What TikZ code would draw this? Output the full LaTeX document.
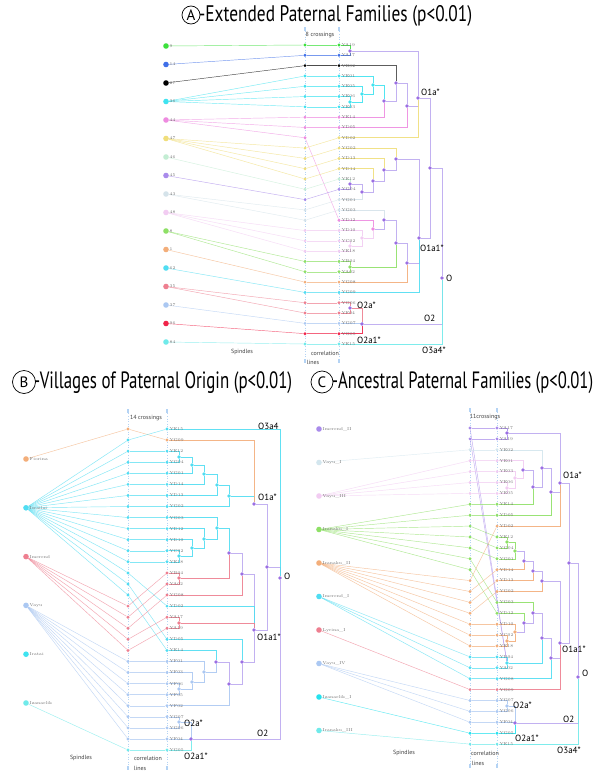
\documentclass[tikz,border=0pt]{standalone}
\usepackage{fontspec}
\usepackage{graphicx}
\usepackage{xcolor}
\usepackage{tikz}
\usetikzlibrary{positioning}
\newfontfamily\headfont{PT Sans}

\definecolor{cGreen}{HTML}{3CE03C}
\definecolor{cBlue}{HTML}{3F6FE8}
\definecolor{cCyan}{HTML}{3FE3F0}
\definecolor{cPink}{HTML}{EE8BE0}
\definecolor{cYellow}{HTML}{F0DE7A}
\definecolor{cMint}{HTML}{C3EDD3}
\definecolor{cPurple}{HTML}{A98BEB}
\definecolor{cGrey}{HTML}{D5E3EA}
\definecolor{cLPink}{HTML}{F2CCF2}
\definecolor{cLime}{HTML}{8EE066}
\definecolor{cOrange}{HTML}{F3AE7A}
\definecolor{cSky}{HTML}{50DDF2}
\definecolor{cRose}{HTML}{EE7F90}
\definecolor{cLBlue}{HTML}{ABC8F2}
\definecolor{cRed}{HTML}{F0244A}
\definecolor{cAqua}{HTML}{70EAEA}
\definecolor{cTeal}{HTML}{25E2EE}
\definecolor{cIce}{HTML}{D3E6EE}
\definecolor{cTree}{HTML}{9B6FE3}
\definecolor{cTreeLine}{HTML}{BCA9F0}
\definecolor{cCol}{HTML}{B4D3F4}

\pgfdeclarelayer{background}
\pgfsetlayers{background,main}

% panel A data
\def\aspin{1/9/cGreen, 2/14/cBlue, 3/27/black, 4/36/cCyan, 5/44/cPink, 6/47/cYellow, 7/46/cMint, 8/45/cPurple, 9/43/cGrey, 10/48/cLPink, 11/8/cLime, 12/1/cOrange, 13/62/cSky, 14/35/cRose, 15/37/cLBlue, 16/96/cRed, 17/84/cAqua}
\def\amid{1/cGreen/1/1, 2/cBlue/2/2, 3/black/3/3, 4/cCyan/4/4, 5/cCyan/4/5, 6/cCyan/4/6, 7/cCyan/4/7, 8/cPink/5/8, 9/cPink/5/9, 10/cPink/5/18, 11/cYellow/6/10, 12/cYellow/6/11, 13/cYellow/6/12, 14/cYellow/6/13, 15/cMint/7/14, 16/cPurple/8/15, 17/cGrey/9/16, 18/cGrey/9/17, 19/cLPink/10/19, 20/cLPink/10/20, 21/cLPink/10/21, 22/cLime/11/22, 23/cLime/11/23, 24/cOrange/12/24, 25/cSky/13/25, 26/cRose/14/26, 27/cRose/14/27, 28/cLBlue/15/28, 29/cRed/16/29, 30/cAqua/17/30}
\def\aleaf{1/YA19/cGreen, 2/YA17/cBlue, 3/YE02/black, 4/YE01/cCyan, 5/YE05/cCyan, 6/YE06/cCyan, 7/YE03/cCyan, 8/YE14/cPink, 9/YD05/cPink, 10/YD02/cYellow, 11/YG02/cYellow, 12/YD13/cYellow, 13/YD14/cYellow, 14/YE12/cMint, 15/YG04/cPurple, 16/YG01/cGrey, 17/YG03/cGrey, 18/YD12/cPink, 19/YD10/cLPink, 20/YC02/cLPink, 21/YE18/cLPink, 22/YB04/cLime, 23/YA02/cLime, 24/YG08/cOrange, 25/YG09/cSky, 26/YG06/cRose, 27/YF04/cRose, 28/YG07/cLBlue, 29/YG05/cRed, 30/YE15/cAqua}
\def\atree{a1/350/51/cTree, c1/350/102/cCyan, c2/362/94/cCyan, c3/373/85/cCyan, a2/384/101/cTree, a3/396/83/cTree, a4/407/106/cTree, A/418/98/cTree, b1/350/184/cTree, b2/362/192/cTree, b3/373/181/cTree, b4/384/170/cTree, b5/396/159/cTree, p1/350/246/cLPink, p2/362/238/cLPink, p3/373/229/cPink, p4/384/220/cTree, g1/350/267/cLime, p5/396/243/cTree, p6/407/263/cTree, B/419/238/cTree, C/430/168/cTree, O/442/278/cTree, q1/350/308/cTree, Q/362/324/cTree}
\def\aedge{l1/a1/cGreen, l2/a1/cBlue, a1/A/cTreeLine, l6/c1/cCyan, l7/c1/cCyan, c1/c2/cCyan, l5/c2/cCyan, c2/c3/cCyan, l4/c3/cCyan, c3/a2/cCyan, l8/a2/cPink, l3/a3/black!70, a2/a3/cTreeLine, a3/a4/cTreeLine, l9/a4/cPink, a4/A/cTreeLine, l10/A/cYellow, l14/b1/cMint, l15/b1/cPurple, b1/b2/cTreeLine, l16/b2/cGrey, b2/b3/cTreeLine, l13/b3/cYellow, b3/b4/cTreeLine, l12/b4/cYellow, b4/b5/cTreeLine, l11/b5/cYellow, b5/B/cTreeLine, l20/p1/cLPink, l21/p1/cLPink, p1/p2/cLPink, l19/p2/cLPink, p2/p3/cLPink, l18/p3/cPink, p3/p4/cTreeLine, l17/p4/cGrey, l22/g1/cLime, l23/g1/cLime, p4/p5/cTreeLine, g1/p5/cLime, p5/p6/cTreeLine, l24/p6/cOrange, p6/B/cTreeLine, l25/B/cSky, A/C/cTreeLine, B/C/cTreeLine, C/O/cTreeLine, l26/q1/cRose, l27/q1/cRose, q1/Q/cRose, l28/Q/cLBlue, l29/Q/cRed, Q/O/cTreeLine, l30/O/cAqua}

% panel B data
\def\bspin{1/Fiorina/cOrange, 2/Israilai/cSky, 3/Imerend/cRose, 4/Vayu/cLBlue, 5/Iratai/cCyan, 6/Izanaelik/cAqua}
\def\bmid{1/cOrange/1/2, 2/cSky/2/1, 3/cSky/2/3, 4/cSky/2/4, 5/cSky/2/5, 6/cSky/2/6, 7/cSky/2/7, 8/cSky/2/8, 9/cSky/2/9, 10/cSky/2/10, 11/cSky/2/11, 12/cSky/2/12, 13/cSky/2/13, 14/cSky/2/17, 15/cSky/2/20, 16/cSky/2/21, 17/cRose/3/14, 18/cRose/3/15, 19/cRose/3/16, 20/cRose/3/18, 21/cRose/3/19, 22/cLBlue/4/22, 23/cLBlue/4/23, 24/cLBlue/4/24, 25/cLBlue/4/25, 26/cLBlue/4/26, 27/cLBlue/4/27, 28/cLBlue/4/28, 29/cLBlue/4/29, 30/cAqua/6/30}
\def\bleaf{1/YE15/cSky, 2/YG09/cOrange, 3/YE12/cSky, 4/YG04/cSky, 5/YG01/cSky, 6/YD14/cSky, 7/YD13/cSky, 8/YG02/cSky, 9/YG03/cSky, 10/YD12/cSky, 11/YD10/cSky, 12/YC02/cSky, 13/YE18/cSky, 14/YB04/cRose, 15/YA02/cRose, 16/YG08/cRose, 17/YD02/cSky, 18/YA17/cRose, 19/YA19/cRose, 20/YD05/cSky, 21/YE14/cSky, 22/YF01/cLBlue, 23/YF03/cLBlue, 24/YF06/cLBlue, 25/YF05/cLBlue, 26/YF02/cLBlue, 27/YG07/cLBlue, 28/YG06/cLBlue, 29/YF04/cLBlue, 30/YG05/cAqua}
\def\btree{b1/179/457/cSky, b2/192/465/cSky, b3/204/474/cSky, b4/217/485/cSky, b5/229/496/cSky, A/254/504/cTree, c1/179/556/cSky, c2/192/548/cSky, c3/204/539/cSky, c4/217/528/cSky, p0/179/578/cRose, p1/229/553/cTree, p2/242/574/cTree, p3/179/623/cRose, d1/179/689/cLBlue, d2/192/682/cLBlue, d3/204/672/cLBlue, d4/216/662/cTree, d5/229/684/cTree, d6/242/662/cTree, B/254/630/cTree, C/267/567/cTree, O/280/578/cTree, e1/179/722/cLBlue, Q/191/739/cTree}
\def\bedge{l3/b1/cSky, l4/b1/cSky, b1/b2/cSky, l5/b2/cSky, b2/b3/cSky, l6/b3/cSky, b3/b4/cSky, l7/b4/cSky, b4/b5/cSky, l8/b5/cSky, b5/A/cSky, l2/A/cOrange, l12/c1/cSky, l13/c1/cSky, c1/c2/cSky, l11/c2/cSky, c2/c3/cSky, l10/c3/cSky, c3/c4/cSky, l9/c4/cSky, c4/p1/cSky, l14/p0/cRose, l15/p0/cRose, p0/p1/cRose, p1/p2/cTreeLine, l16/p2/cRose, p2/B/cTreeLine, l17/B/cSky, l18/p3/cRose, l19/p3/cRose, p3/B/cRose, l24/d1/cLBlue, l25/d1/cLBlue, d1/d2/cLBlue, l23/d2/cLBlue, d2/d3/cLBlue, l22/d3/cLBlue, d3/d4/cLBlue, l21/d4/cSky, d4/d5/cTreeLine, l26/d5/cLBlue, d5/d6/cTreeLine, l20/d6/cSky, d6/B/cTreeLine, A/C/cTreeLine, B/C/cTreeLine, C/O/cTreeLine, l1/O/cSky, l27/e1/cLBlue, l28/e1/cLBlue, e1/Q/cLBlue, l29/Q/cLBlue, l30/Q/cAqua, Q/O/cTreeLine}

% panel C data
\def\cspin{1/Imerend\_II/cPurple, 2/Vayu\_I/cIce, 3/Vayu\_III/cLPink, 4/Iranaku\_I/cLime, 5/Iranaku\_II/cOrange, 6/Imerend\_I/cSky, 7/Lyrina\_I/cRose, 8/Vayu\_IV/cLBlue, 9/Izanaelik\_I/cTeal, 10/Iranaku\_III/cAqua}
\def\cmid{1/cPurple/1/1, 2/cPurple/1/2, 3/cIce/2/3, 4/cLPink/3/4, 5/cLPink/3/5, 6/cLPink/3/6, 7/cLPink/3/7, 8/cLime/4/8, 9/cLime/4/9, 10/cLime/4/11, 11/cLime/4/12, 12/cLime/4/13, 13/cLime/4/17, 14/cLime/4/18, 15/cOrange/5/10, 16/cOrange/5/14, 17/cOrange/5/15, 18/cOrange/5/16, 19/cOrange/5/19, 20/cOrange/5/20, 21/cOrange/5/21, 22/cSky/6/22, 23/cSky/6/23, 24/cSky/6/24, 25/cRose/7/25, 26/cLBlue/8/26, 27/cLBlue/8/27, 28/cLBlue/8/28, 29/cTeal/9/29, 30/cAqua/10/30}
\def\cleaf{1/YA17/cPurple, 2/YA19/cPurple, 3/YE02/cIce, 4/YE01/cLPink, 5/YE03/cLPink, 6/YE06/cLPink, 7/YE05/cLPink, 8/YE14/cLime, 9/YD05/cLime, 10/YD02/cOrange, 11/YE12/cLime, 12/YG04/cLime, 13/YG01/cLime, 14/YD14/cOrange, 15/YD13/cOrange, 16/YG02/cOrange, 17/YG03/cLime, 18/YD12/cLime, 19/YD10/cOrange, 20/YC02/cOrange, 21/YE18/cOrange, 22/YB04/cSky, 23/YA02/cSky, 24/YG08/cSky, 25/YG09/cRose, 26/YG07/cLBlue, 27/YG06/cLBlue, 28/YF04/cLBlue, 29/YG05/cTeal, 30/YE15/cAqua}
\def\ctree{a1/507/433/cTree, k1/507/488/cLPink, k2/515/478/cLPink, k3/523/470/cTree, k4/533/487/cTree, k5/542/468/cTree, k6/551/492/cTree, A/560/483/cTree, g1/507/542/cLime, g2/515/551/cLime, g3/524/561/cTree, g4/533/571/cTree, g5/542/581/cTree, h1/507/641/cOrange, h2/515/632/cOrange, h3/524/623/cTree, h4/533/613/cTree, s1/507/663/cSky, h5/542/638/cTree, h6/551/658/cTree, B/560/643/cTree, C/569/563/cTree, O/578/677/cTree, e1/507/706/cLBlue, Q/515/723/cTree}
\def\cedge{l1/a1/cPurple, l2/a1/cPurple, a1/A/cTreeLine, l6/k1/cLPink, l7/k1/cLPink, k1/k2/cLPink, l5/k2/cLPink, k2/k3/cLPink, l4/k3/cLPink, k3/k4/cTreeLine, l8/k4/cLime, k4/k5/cTreeLine, l3/k5/cIce, k5/k6/cTreeLine, l9/k6/cLime, k6/A/cTreeLine, l10/A/cOrange, l11/g1/cLime, l12/g1/cLime, g1/g2/cLime, l13/g2/cLime, g2/g3/cTreeLine, l14/g3/cOrange, g3/g4/cTreeLine, l15/g4/cOrange, g4/g5/cTreeLine, l16/g5/cOrange, g5/B/cTreeLine, l20/h1/cOrange, l21/h1/cOrange, h1/h2/cOrange, l19/h2/cOrange, h2/h3/cTreeLine, l18/h3/cLime, h3/h4/cTreeLine, l17/h4/cLime, l22/s1/cSky, l23/s1/cSky, h4/h5/cTreeLine, s1/h5/cSky, h5/h6/cTreeLine, l24/h6/cSky, h6/B/cTreeLine, l25/B/cRose, A/C/cTreeLine, B/C/cTreeLine, C/O/cTreeLine, l26/e1/cLBlue, l27/e1/cLBlue, e1/Q/cLBlue, l28/Q/cLBlue, l29/Q/cTeal, Q/O/cTreeLine, l30/O/cAqua}

\begin{document}
\begin{tikzpicture}[x=1pt, y=-1pt,
    spindle/.style={circle, fill=#1, minimum size=5.6pt, inner sep=0pt},
    pdot/.style={circle, fill=#1, minimum size=3.2pt, inner sep=0pt},
    tdot/.style={circle, fill=#1, minimum size=3.6pt, inner sep=0pt},
    link/.style={draw=#1, draw opacity=0.7, line width=0.45pt},
    tline/.style={draw=#1, draw opacity=0.9, line width=0.6pt},
    tag/.style={font=\fontsize{4.2}{5}\selectfont, text=black!55, inner sep=0.5pt},
    clade/.style={font=\headfont\fontsize{9}{9}\selectfont, inner sep=0pt, anchor=west},
    caption/.style={font=\headfont\fontsize{6}{6}\selectfont, text=black!75, inner sep=0pt},
    colmark/.style={rectangle, fill=cCol, minimum width=2.5pt, minimum height=4.5pt, inner sep=0pt},
    colline/.style={draw=cCol, dash pattern=on 0.8pt off 1.8pt, line width=0.35pt},
    badge/.style={circle, draw, line width=0.7pt, inner sep=0pt, minimum size=#1, font=\headfont\fontsize{15}{15}\selectfont}
]
\begin{pgfonlayer}{background}
\fill[white] (0,0) rectangle (600,776);
\end{pgfonlayer}
\useasboundingbox (0,0) rectangle (600,776);

% ---------- A: extended paternal families
\node[badge=18pt] (a-badge) at (191,15) {A};
\node[anchor=west, inner sep=0pt] (a-title) at (199,15.5) {\resizebox*{273pt}{21pt}{\headfont -Extended Paternal Families (p<0.01)}};

\node[colmark] (a-top1) at (305,29) {};
\node[colmark] (a-top2) at (339,29) {};
\node[colmark] (a-bot1) at (305,361) {};
\node[colmark] (a-bot2) at (339,361) {};
\node[caption] (a-cross) at (320,35) {8 crossings};
\node[caption] (a-spin) at (242,352) {Spindles};
\node[caption] (a-corr) at (325,353) {correlation};
\node[caption] (a-lines) at (313,362) {lines};

\foreach \k/\lab/\col in \aspin
  \node[spindle=\col, label={[tag]right:\lab}] (a-s\k) at (166,{46+(\k-1)*18.5}) {};
\foreach \i/\col/\k/\j in \amid
  \node[pdot=\col] (a-m\i) at (305,{45+(\i-1)*10.31}) {};
\foreach \i/\lab/\col in \aleaf
  \node[pdot=\col, label={[tag]right:\lab}] (a-l\i) at (339,{45+(\i-1)*10.31}) {};
\foreach \n/\x/\y/\col in \atree
  \node[tdot=\col] (a-\n) at (\x,\y) {};

\node[clade] at (421,92) {O1a*};
\node[clade] at (420,248) {O1a1*};
\node[clade] at (446,278) {O};
\node[clade] at (357,305) {O2a*};
\node[clade] at (424,318) {O2};
\node[clade] at (357,340) {O2a1*};
\node[clade] at (422,350) {O3a4*};

\begin{pgfonlayer}{background}
\draw[colline] (a-top1) -- (a-bot1);
\draw[colline] (a-top2) -- (a-bot2);
\foreach \i/\col/\k/\j in \amid {
  \draw[link=\col] (a-s\k) -- (a-m\i);
  \draw[link=\col] (a-m\i) -- (a-l\j);
}
\foreach \c/\p/\col in \aedge
  \draw[tline=\col] (a-\c) -| (a-\p);
\end{pgfonlayer}

% ---------- B: villages of paternal origin
\node[badge=23pt] (b-badge) at (24,382) {B};
\node[anchor=west, inner sep=0pt] (b-title) at (34,382.5) {\resizebox*{258pt}{22pt}{\headfont -Villages of Paternal Origin (p<0.01)}};

\node[colmark] (b-top1) at (128,411) {};
\node[colmark] (b-top2) at (167,411) {};
\node[colmark] (b-bot1) at (128,768) {};
\node[colmark] (b-bot2) at (167,768) {};
\node[caption] (b-cross) at (146,418) {14 crossings};
\node[caption] (b-spin) at (81,758) {Spindles};
\node[caption] (b-corr) at (148,758) {correlation};
\node[caption] (b-lines) at (140,768) {lines};

\foreach \k/\lab/\col in \bspin
  \node[spindle=\col, label={[tag]right:\lab}] (b-s\k) at (26,{459+(\k-1)*48.8}) {};
\foreach \i/\col/\k/\j in \bmid
  \node[pdot=\col] (b-m\i) at (128,{429+(\i-1)*11.07}) {};
\foreach \i/\lab/\col in \bleaf
  \node[pdot=\col, label={[tag]right:\lab}] (b-l\i) at (167,{429+(\i-1)*11.07}) {};
\foreach \n/\x/\y/\col in \btree
  \node[tdot=\col] (b-\n) at (\x,\y) {};

\node[clade] at (258,426) {O3a4};
\node[clade] at (258,497) {O1a*};
\node[clade] at (284,576) {O};
\node[clade] at (257,637) {O1a1*};
\node[clade] at (184,723) {O2a*};
\node[clade] at (257,733) {O2};
\node[clade] at (184,756) {O2a1*};

\begin{pgfonlayer}{background}
\draw[colline] (b-top1) -- (b-bot1);
\draw[colline] (b-top2) -- (b-bot2);
\foreach \i/\col/\k/\j in \bmid {
  \draw[link=\col] (b-s\k) -- (b-m\i);
  \draw[link=\col] (b-m\i) -- (b-l\j);
}
\foreach \c/\p/\col in \bedge
  \draw[tline=\col] (b-\c) -| (b-\p);
\end{pgfonlayer}

% ---------- C: ancestral paternal families
\node[badge=22pt] (c-badge) at (322,382) {C};
\node[anchor=west, inner sep=0pt] (c-title) at (332,382.5) {\resizebox*{261pt}{22pt}{\headfont -Ancestral Paternal Families (p<0.01)}};

\node[colmark] (c-top1) at (470,410) {};
\node[colmark] (c-top2) at (497,410) {};
\node[colmark] (c-bot1) at (470,766) {};
\node[colmark] (c-bot2) at (497,766) {};
\node[caption] (c-cross) at (485,417) {11crossings};
\node[caption] (c-spin) at (404,753) {Spindles};
\node[caption] (c-corr) at (485,753) {correlation};
\node[caption] (c-lines) at (478,763) {lines};

\foreach \k/\lab/\col in \cspin
  \node[spindle=\col, label={[tag]right:\lab}] (c-s\k) at (319,{429+(\k-1)*33.5}) {};
\foreach \i/\col/\k/\j in \cmid
  \node[pdot=\col] (c-m\i) at (470,{428+(\i-1)*10.9}) {};
\foreach \i/\lab/\col in \cleaf
  \node[pdot=\col, label={[tag]right:\lab}] (c-l\i) at (497,{428+(\i-1)*10.9}) {};
\foreach \n/\x/\y/\col in \ctree
  \node[tdot=\col] (c-\n) at (\x,\y) {};

\node[clade] at (563,475) {O1a*};
\node[clade] at (562,649) {O1a1*};
\node[clade] at (582,673) {O};
\node[clade] at (513,705) {O2a*};
\node[clade] at (563,719) {O2};
\node[clade] at (515,738) {O2a1*};
\node[clade] at (557,750) {O3a4*};

\begin{pgfonlayer}{background}
\draw[colline] (c-top1) -- (c-bot1);
\draw[colline] (c-top2) -- (c-bot2);
\foreach \i/\col/\k/\j in \cmid {
  \draw[link=\col] (c-s\k) -- (c-m\i);
  \draw[link=\col] (c-m\i) -- (c-l\j);
}
\foreach \c/\p/\col in \cedge
  \draw[tline=\col] (c-\c) -| (c-\p);
\end{pgfonlayer}

\end{tikzpicture}
\end{document}
